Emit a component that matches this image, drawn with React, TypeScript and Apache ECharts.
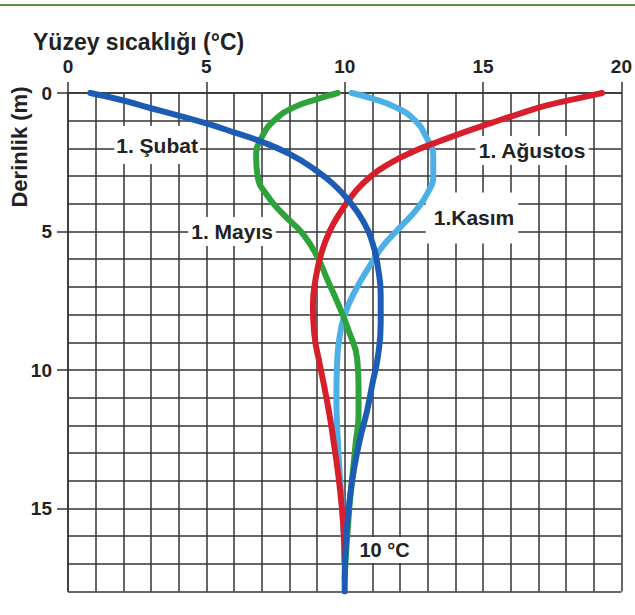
import React, { useEffect, useRef } from "react";
import * as echarts from "echarts";

// Temperature (°C) / depth (m) profiles
const subatT = [0.8, 2.0, 3.0, 4.0, 5.0, 6.0, 7.0, 8.0, 8.9, 9.6, 10.2, 10.65, 11.0, 11.2, 11.3, 11.3, 11.2, 11.0, 10.8, 10.55, 10.35, 10.2, 10.1, 10.03, 10.0, 10.0];
const subatD = [0, 0.27, 0.55, 0.82, 1.1, 1.42, 1.76, 2.2, 2.75, 3.3, 3.95, 4.6, 5.4, 6.3, 7.3, 8.3, 9.5, 10.5, 11.5, 12.5, 13.5, 14.5, 15.5, 16.5, 17.5, 18.0];

const mayisT = [9.75, 9.0, 8.2, 7.5, 7.0, 6.8, 6.85, 7.2, 7.8, 8.5, 9.0, 9.4, 9.8, 10.15, 10.45, 10.5, 10.5, 10.4, 10.3, 10.2, 10.12, 10.05, 10.0];
const mayisD = [0, 0.22, 0.5, 0.95, 1.6, 2.3, 3.0, 3.7, 4.4, 5.1, 5.9, 6.8, 7.7, 8.6, 9.6, 10.6, 11.6, 12.6, 13.6, 14.6, 15.6, 16.6, 17.5];

const kasimT = [10.25, 11.0, 11.8, 12.5, 12.95, 13.2, 13.2, 13.0, 12.6, 12.0, 11.4, 10.9, 10.4, 10.0, 9.8, 9.72, 9.7, 9.72, 9.77, 9.83, 9.9, 9.96, 10.0];
const kasimD = [0, 0.2, 0.5, 0.95, 1.6, 2.3, 3.0, 3.6, 4.2, 4.85, 5.5, 6.25, 7.1, 8.0, 8.9, 9.9, 10.9, 11.9, 12.9, 13.9, 14.9, 15.9, 17.0];

const agustosT = [19.3, 18.3, 17.3, 16.3, 15.3, 14.3, 13.4, 12.5, 11.7, 10.95, 10.35, 9.85, 9.45, 9.15, 8.95, 8.85, 8.9, 9.1, 9.3, 9.48, 9.63, 9.77, 9.88, 9.96, 10.0];
const agustosD = [0, 0.22, 0.45, 0.75, 1.08, 1.42, 1.75, 2.1, 2.5, 3.0, 3.6, 4.3, 5.0, 5.8, 6.7, 7.7, 8.7, 9.8, 10.8, 11.8, 12.8, 13.8, 14.8, 15.8, 17.0];

// Curve labels: [temperature, depth, text]
const labelNames = ["1. Şubat", "1. Mayıs", "1. Ağustos", "1.Kasım", "10 °C"];
const labelT = [3.22, 5.93, 16.77, 14.6, 11.44];
const labelD = [1.88, 5.0, 2.08, 4.51, 16.5];

const xTitle = "Yüzey sıcaklığı (°C)";
const yTitle = "Derinlik (m)";

const FONT = "'Liberation Sans', Arial, sans-serif";
const GRID_COLOR = "#353535";

function pairs(t: number[], d: number[]) {
  return t.map((v, i) => [v, d[i]]);
}

export default function App() {
  const ref = useRef<HTMLDivElement>(null);
  useEffect(() => {
    document.body.style.margin = "0";
    const chart = echarts.init(ref.current!, null, { renderer: "svg" });
    const gLeft = 68;
    const gTop = 93;
    const gWidth = 558.7;
    const gHeight = 498.6;
    const lineSeries = (name: string, t: number[], d: number[], color: string, z: number) => ({
      name,
      type: "line",
      xAxisIndex: 0,
      yAxisIndex: 0,
      data: pairs(t, d),
      smooth: 0.5,
      showSymbol: false,
      symbol: "none",
      z,
      lineStyle: { color, width: 6, cap: "round", join: "round" },
    });
    const padList: number[][] = [
      [14, 2, 3, 2],
      [4, 3, 4, 3],
      [4, 3, 4, 3],
      [26, 4, 4, 8],
      [3, 4, 3, 4],
    ];
    chart.setOption({
      animation: false,
      backgroundColor: "#ffffff",
      title: {
        text: xTitle,
        left: 28,
        top: 25,
        textStyle: { fontSize: 23, fontWeight: "bold", color: "#222", fontFamily: FONT },
      },
      graphic: [
        { type: "rect", shape: { x: 0, y: 4, width: 635, height: 2 }, style: { fill: "#5a8f3c" } },
        {
          type: "text",
          x: 19,
          y: 147,
          rotation: Math.PI / 2,
          style: {
            text: yTitle,
            fill: "#222",
            font: `bold 22px ${FONT}`,
            align: "center",
            verticalAlign: "middle",
          },
        },
      ],
      grid: [
        { left: gLeft, top: gTop, width: gWidth, height: gHeight },
        { left: gLeft, top: gTop, width: gWidth, height: (gHeight * 15) / 18 },
      ],
      xAxis: [
        {
          type: "value",
          gridIndex: 0,
          position: "top",
          min: 0,
          max: 20,
          interval: 5,
          axisLine: { show: true, lineStyle: { color: GRID_COLOR, width: 1.5 } },
          axisTick: { show: true, length: 11, lineStyle: { color: GRID_COLOR, width: 1.5 } },
          minorTick: { show: false, splitNumber: 5 },
          axisLabel: { fontSize: 19, fontWeight: "bold", color: "#222", margin: 17, fontFamily: FONT },
          splitLine: { show: true, lineStyle: { color: GRID_COLOR, width: 1.5 } },
          minorSplitLine: { show: true, lineStyle: { color: GRID_COLOR, width: 1.5 } },
        },
        { type: "value", gridIndex: 1, min: 0, max: 20, show: false },
      ],
      yAxis: [
        {
          type: "value",
          gridIndex: 0,
          inverse: true,
          min: 0,
          max: 18,
          interval: 1,
          axisLine: { show: true, lineStyle: { color: GRID_COLOR, width: 1.5 } },
          axisTick: { show: false },
          axisLabel: { show: false },
          splitLine: { show: true, lineStyle: { color: GRID_COLOR, width: 1.5 } },
        },
        {
          type: "value",
          gridIndex: 1,
          inverse: true,
          min: 0,
          max: 15,
          interval: 5,
          axisLine: { show: false },
          axisTick: { show: true, length: 11, lineStyle: { color: GRID_COLOR, width: 1.5 } },
          axisLabel: { fontSize: 19, fontWeight: "bold", color: "#222", margin: 16, fontFamily: FONT },
          splitLine: { show: false },
        },
      ],
      series: [
        lineSeries("1.Kasım", kasimT, kasimD, "#4cb0e6", 3),
        lineSeries("1. Mayıs", mayisT, mayisD, "#2ea23b", 4),
        lineSeries("1. Ağustos", agustosT, agustosD, "#d71f2b", 5),
        lineSeries("1. Şubat", subatT, subatD, "#1c5cb4", 6),
        {
          type: "scatter",
          xAxisIndex: 0,
          yAxisIndex: 0,
          symbolSize: 0,
          silent: true,
          z: 1,
          itemStyle: { opacity: 1 },
          emphasis: { disabled: true },
          data: labelNames.map((n, i) => ({
            value: [labelT[i], labelD[i]],
            label: {
              show: true,
              position: "inside",
              formatter: n,
              fontSize: i === 4 ? 20 : 21,
              fontWeight: "bold",
              color: "#222",
              opacity: 1,
              fontFamily: FONT,
              backgroundColor: "#ffffff",
              padding: padList[i],
            },
          })),
        },
      ],
    });
    return () => chart.dispose();
  }, []);
  return (
    <div
      ref={ref}
      style={{ position: "fixed", left: 0, top: 0, width: 635, height: 615, background: "#fff" }}
    />
  );
}
